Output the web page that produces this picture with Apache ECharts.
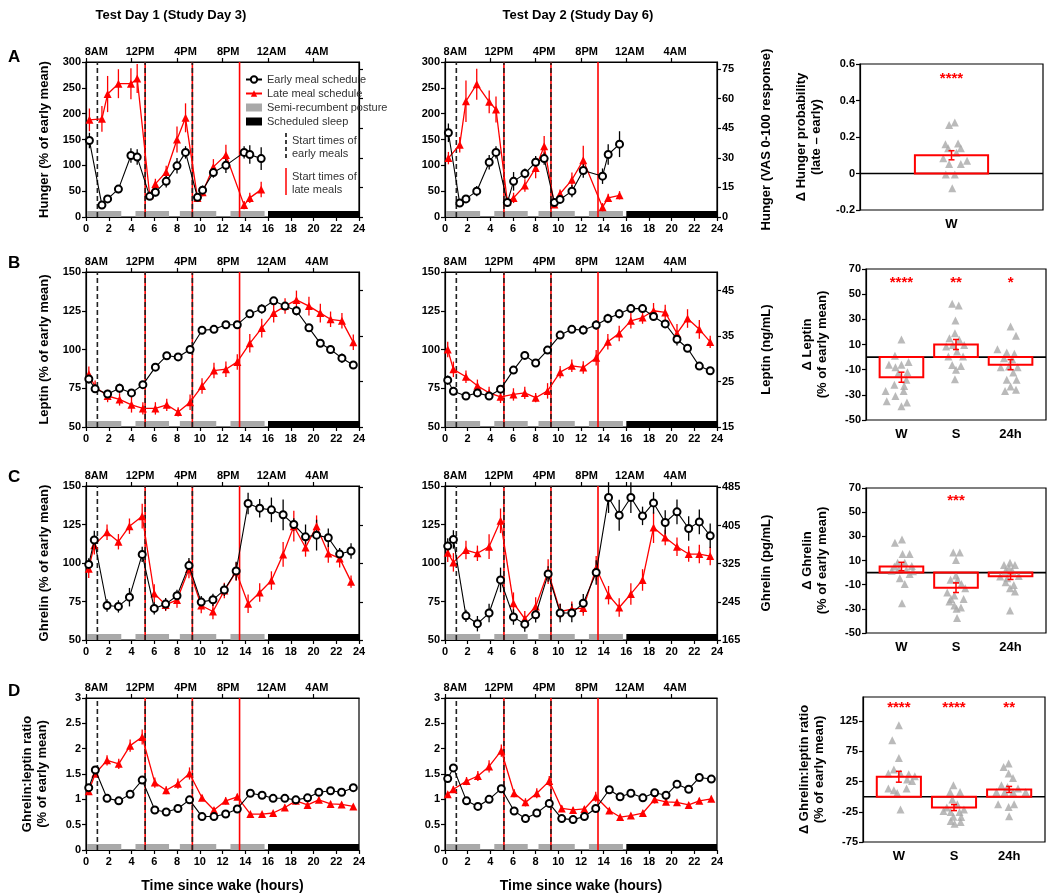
<!DOCTYPE html>
<html>
<head>
<meta charset="utf-8">
<script src="https://cdn.jsdelivr.net/npm/echarts@6/dist/echarts.min.js"></script>
<style>
html, body { margin: 0; padding: 0; background: #fff; }
#chart { width: 1050px; height: 894px; }
</style>
</head>
<body>
<div id="chart"></div>
<script>
var FONT = '"Liberation Sans", Arial, sans-serif';
var RED = '#ff0000';
var GREY = '#a9a9a9';

// clock axis and protocol timing (hours since wake)
var clockLabels = ['8AM', '12PM', '4PM', '8PM', '12AM', '4AM'];
var clockLabelHours = [0.9, 4.75, 8.75, 12.5, 16.3, 20.3];
var postureBlocks = [[0.1, 3.1], [4.35, 7.3], [8.25, 11.45], [12.7, 15.7]];
var sleepBlocks = [[16, 24]];
var earlyMeals = [1, 5.2, 9.35];
var lateMeals = [5.2, 9.35, 13.5];

// Hunger, % of early mean
var hungerHours1 = [0.3, 1.4, 1.9, 2.85, 3.95, 4.5, 5.6, 6.1, 7.05, 8.0, 8.75, 9.8, 10.25, 11.2, 12.3, 13.9, 14.4, 15.4];
var hungerEarly1 = [148, 23, 35, 54, 119, 116, 40, 48, 69, 99, 125, 38, 52, 86, 100, 125, 121, 113];
var hungerEarly1Err = [15, 5, 7, 8, 14, 15, 7, 8, 12, 15, 12, 8, 9, 10, 15, 12, 18, 22];
var hungerLate1 = [188, 190, 238, 258, 258, 268, 42, 64, 87, 150, 192, 37, 48, 97, 120, 23, 37, 53];
var hungerLate1Err = [22, 25, 35, 28, 30, 28, 8, 10, 12, 25, 28, 6, 8, 15, 20, 8, 10, 15];
var hungerHours2 = [0.3, 1.3, 1.85, 2.8, 3.9, 4.5, 5.5, 6.05, 7.05, 8.0, 8.75, 9.65, 10.15, 11.2, 12.2, 13.9, 14.4, 15.4];
var hungerEarly2 = [163, 27, 35, 50, 106, 125, 28, 69, 84, 106, 113, 28, 34, 50, 90, 79, 121, 141];
var hungerEarly2Err = [18, 6, 7, 10, 14, 12, 6, 18, 10, 12, 12, 6, 7, 12, 14, 15, 20, 25];
var hungerLate2 = [114, 140, 224, 257, 223, 208, 30, 37, 61, 95, 137, 24, 45, 72, 110, 19, 37, 42];
var hungerLate2Err = [12, 15, 40, 30, 22, 25, 8, 10, 12, 20, 20, 6, 8, 14, 28, 8, 8, 8];

// Leptin, % of early mean
var leptinHours1 = [0.25, 0.8, 1.9, 2.95, 4, 5, 6.1, 7.1, 8.1, 9.15, 10.2, 11.25, 12.3, 13.3, 14.4, 15.45, 16.5, 17.5, 18.5, 19.6, 20.6, 21.5, 22.5, 23.5];
var leptinEarly1 = [81, 74.6, 71.3, 75, 72, 77.3, 88.6, 96, 95.2, 100, 112.4, 113, 116, 116, 123, 126.2, 131.4, 128, 125, 114, 104, 100, 94.4, 90];
var leptinEarly1Err = [3, 2, 2, 3, 2, 2, 2, 2, 2, 2, 2, 2, 2, 2, 2, 3, 2, 2, 3, 2, 2, 2, 3, 2];
var leptinLate1 = [84, 76, 70, 67.8, 64.3, 62, 62, 64.3, 59.7, 66, 76.4, 86.4, 87.3, 92, 104, 113.8, 123.5, 128, 132, 128, 123.5, 119.5, 118.5, 104.6];
var leptinLate1Err = [5, 4, 4, 4, 5, 4, 4, 4, 3, 5, 5, 5, 5, 5, 6, 6, 6, 5, 6, 6, 6, 5, 5, 5];
var leptinHours2 = [0.24, 0.74, 1.85, 2.86, 3.89, 4.9, 6.04, 7.04, 8.0, 9.05, 10.16, 11.19, 12.2, 13.34, 14.37, 15.37, 16.4, 17.43, 18.4, 19.43, 20.47, 21.4, 22.44, 23.4];
var leptinEarly2 = [80.2, 73.1, 70, 72, 70, 74.4, 86.7, 96.2, 91.3, 99.6, 109.3, 113, 112.6, 115.8, 120, 123, 126.4, 126.4, 121.3, 116.5, 106.6, 100.8, 89.3, 86.3];
var leptinEarly2Err = [3, 2, 2, 2, 2, 2, 2, 2, 2, 2, 2, 2, 3, 3, 3, 3, 2, 2, 2, 2, 4, 2, 2, 2];
var leptinLate2 = [100, 87.2, 82.4, 76.6, 72, 69.5, 71, 72, 68.9, 73.3, 85.4, 89.5, 88.4, 94.7, 105, 110.4, 118.5, 120.6, 125, 123.9, 110.4, 120, 113, 104.9];
var leptinLate2Err = [5, 5, 4, 4, 4, 4, 4, 4, 3, 5, 4, 4, 4, 5, 5, 5, 5, 4, 5, 5, 6, 6, 6, 4];

// Ghrelin, % of early mean
var ghrelinHours1 = [0.24, 0.73, 1.85, 2.85, 3.82, 4.94, 6.0, 7.0, 8.0, 9.05, 10.13, 11.16, 12.16, 13.2, 14.25, 15.27, 16.3, 17.33, 18.27, 19.3, 20.27, 21.3, 22.3, 23.3];
var ghrelinEarly1 = [99.1, 114.9, 72.4, 71.8, 77.8, 105.6, 70.5, 73.3, 78.7, 98.3, 74.6, 76.1, 82.5, 94.8, 138.6, 135.6, 134.5, 131.3, 125, 117, 118.1, 116.4, 105.8, 107.8];
var ghrelinEarly1Err = [4, 6, 4, 4, 6, 5, 4, 4, 4, 5, 4, 4, 4, 6, 7, 6, 8, 10, 4, 8, 10, 6, 4, 5];
var ghrelinLate1 = [96.3, 111.6, 120, 113.8, 123.9, 130.4, 80.2, 72.8, 76, 96.1, 72.4, 68.5, 82.1, 94.4, 73.5, 80.8, 88.6, 105.6, 123.9, 110.1, 123.9, 106.2, 103, 87.9];
var ghrelinLate1Err = [6, 6, 5, 5, 5, 8, 6, 4, 5, 6, 5, 5, 5, 6, 6, 6, 6, 8, 10, 6, 7, 6, 6, 4];
var ghrelinHours2 = [0.24, 0.74, 1.85, 2.86, 3.89, 4.9, 6.04, 7.04, 8.0, 9.1, 10.16, 11.19, 12.2, 13.34, 14.43, 15.37, 16.4, 17.43, 18.4, 19.43, 20.47, 21.5, 22.44, 23.4];
var ghrelinEarly2 = [111, 115.3, 65.7, 60.6, 67.5, 89, 64.9, 60.3, 66.4, 92.9, 67.5, 67.5, 73.9, 93.8, 142.5, 131, 142.5, 130.6, 139, 126.3, 133.2, 122.4, 126.7, 117.7];
var ghrelinEarly2Err = [5, 6, 4, 5, 6, 8, 5, 5, 5, 5, 6, 6, 6, 8, 10, 10, 10, 6, 7, 8, 8, 8, 8, 8];
var ghrelinLate2 = [106.7, 100.4, 108.4, 106.3, 110.6, 127.4, 73.9, 63.8, 71.8, 94.4, 68.5, 70, 70.7, 96.6, 79.1, 71.1, 79.9, 89, 123, 116.6, 110.6, 105.8, 105.8, 104.5];
var ghrelinLate2Err = [6, 6, 6, 5, 8, 8, 7, 5, 6, 8, 5, 5, 5, 8, 6, 6, 7, 7, 10, 5, 6, 5, 6, 6];

// Ghrelin:leptin ratio
var ratioHours1 = [0.24, 0.82, 1.85, 2.88, 3.88, 4.94, 6.05, 7.05, 8.08, 9.1, 10.2, 11.25, 12.28, 13.3, 14.45, 15.48, 16.45, 17.48, 18.45, 19.48, 20.47, 21.5, 22.47, 23.5];
var ratioEarly1 = [1.23, 1.58, 1.02, 0.97, 1.10, 1.38, 0.79, 0.75, 0.82, 0.99, 0.66, 0.66, 0.71, 0.81, 1.12, 1.08, 1.02, 1.02, 0.99, 1.03, 1.14, 1.17, 1.14, 1.23];
var ratioEarly1Err = [0.04, 0.05, 0.03, 0.03, 0.04, 0.05, 0.03, 0.03, 0.03, 0.04, 0.03, 0.03, 0.03, 0.03, 0.03, 0.03, 0.03, 0.03, 0.03, 0.03, 0.04, 0.03, 0.04, 0.05];
var ratioLate1 = [1.16, 1.51, 1.77, 1.70, 2.06, 2.23, 1.33, 1.18, 1.31, 1.51, 1.03, 0.79, 0.97, 1.05, 0.71, 0.71, 0.73, 0.84, 0.97, 0.89, 0.99, 0.91, 0.90, 0.86];
var ratioLate1Err = [0.05, 0.08, 0.1, 0.1, 0.12, 0.15, 0.1, 0.08, 0.1, 0.12, 0.06, 0.05, 0.07, 0.06, 0.04, 0.04, 0.04, 0.06, 0.07, 0.06, 0.06, 0.06, 0.05, 0.05];
var ratioHours2 = [0.24, 0.74, 1.9, 2.9, 3.89, 4.97, 6.1, 7.1, 8.1, 9.2, 10.3, 11.3, 12.3, 13.3, 14.5, 15.45, 16.4, 17.46, 18.5, 19.5, 20.47, 21.5, 22.44, 23.5];
var ratioEarly2 = [1.41, 1.62, 0.97, 0.86, 1.0, 1.21, 0.77, 0.62, 0.73, 0.92, 0.62, 0.60, 0.66, 0.82, 1.19, 1.05, 1.12, 1.03, 1.13, 1.08, 1.30, 1.20, 1.43, 1.40];
var ratioEarly2Err = [0.04, 0.05, 0.03, 0.03, 0.04, 0.05, 0.03, 0.03, 0.03, 0.04, 0.03, 0.03, 0.03, 0.03, 0.03, 0.03, 0.03, 0.03, 0.03, 0.03, 0.04, 0.06, 0.06, 0.06];
var ratioLate2 = [1.10, 1.20, 1.36, 1.46, 1.65, 1.96, 1.12, 0.94, 1.12, 1.36, 0.82, 0.79, 0.81, 1.05, 0.78, 0.65, 0.68, 0.73, 1.0, 0.95, 0.94, 0.89, 0.97, 1.01];
var ratioLate2Err = [0.05, 0.06, 0.08, 0.1, 0.12, 0.12, 0.08, 0.08, 0.1, 0.1, 0.06, 0.05, 0.05, 0.1, 0.05, 0.04, 0.04, 0.05, 0.08, 0.06, 0.05, 0.05, 0.06, 0.06];

// late minus early summaries (W = wake, S = sleep, 24h)
var deltaCats3 = ['W', 'S', '24h'];
var hungerDeltaMean = [0.10];
var hungerDeltaSem = [0.025];
var hungerDeltaStars = ['****'];
var hungerDeltaPoints = [[0.266, 0.279, 0.16, 0.138, 0.165, 0.138, 0.114, 0.083, 0.052, 0.052, 0.07, -0.005, -0.005, -0.081]];
var hungerDeltaJitter = [[-0.013, 0.018, -0.033, -0.018, 0.036, 0.051, 0.027, -0.045, -0.013, 0.051, 0.085, -0.031, 0.018, 0.004]];

var leptinDeltaMean = [-16, 10, -6];
var leptinDeltaSem = [4, 4, 4];
var leptinDeltaStars = ['****', '**', '*'];
var leptinDeltaPoints = [
  [14, 1, -4, -6, -6, -8, -12, -13, -18, -22, -23, -27, -27, -31, -35, -36, -39],
  [42.4, 41, 29, 19, 15, 13.7, 8.4, 9.7, 9.7, 4.4, 0.4, 0.4, -6.2, -7, -10, -17.6],
  [24.3, 17, 6.3, 3.6, 2.6, -0.9, -1.7, -8, -7.5, -8, -12.3, -18.1, -18.1, -23.4, -26.9, -26]
];
var leptinDeltaJitter = [
  [0, -0.12, 0.13, -0.23, 0, -0.11, 0.11, -0.06, 0.09, -0.13, 0.05, -0.29, 0.04, -0.11, -0.27, 0.1, 0],
  [-0.07, 0.05, -0.01, -0.02, -0.12, 0.06, -0.18, -0.06, 0.15, 0.02, -0.14, 0.13, -0.07, 0.09, 0, -0.02],
  [0, 0.1, -0.24, -0.07, 0.07, -0.12, 0.03, -0.18, -0.03, 0.13, 0.05, -0.07, 0.11, 0, -0.1, 0.1]
];

var ghrelinDeltaMean = [5, -12.5, -3];
var ghrelinDeltaSem = [3.5, 4, 2.7];
var ghrelinDeltaStars = ['', '***', ''];
var ghrelinDeltaPoints = [
  [24.7, 27.4, 15.4, 15.4, 8.2, 8.2, 5, 5.5, 1.6, 2.7, 2.2, -1.1, 1.2, -4.7, -9.4, -25.3],
  [16.7, 16.7, 10.4, -2.5, -6, -6, -9.4, -16.5, -19, -13, -21.8, -21.8, -27.2, -28.8, -30, -37.6, -24],
  [8.2, 6.3, 6.3, 3.6, 1.6, 1.6, -2.8, -3.3, -4.7, -8, -10.2, -13, -15.7, -31.3]
];
var ghrelinDeltaJitter = [
  [-0.12, 0.01, 0.02, 0.15, -0.07, 0.06, -0.13, 0.19, -0.18, -0.05, 0.09, 0.15, 0.21, -0.03, 0.06, 0.01],
  [-0.05, 0.07, 0, 0, -0.1, 0.03, 0.1, -0.16, -0.03, 0.17, -0.09, 0.14, -0.03, 0.09, 0.01, 0.02, -0.12],
  [-0.01, -0.12, 0.08, -0.03, -0.09, 0.03, 0.15, -0.19, -0.06, -0.09, 0.06, -0.01, 0.08, -0.01]
];

var ratioDeltaMean = [33, -18, 12];
var ratioDeltaSem = [9, 5, 5];
var ratioDeltaStars = ['****', '****', '**'];
var ratioDeltaPoints = [
  [118.4, 93.5, 64.2, 38.3, 44.9, 38.3, 37.2, 33.8, 28.3, 26.1, 13.4, 10.6, 6.2, 13.4, -21.4],
  [18.9, 7.9, 7.9, -4.8, -23.6, -25.3, -25.3, -21.4, -18.1, -12.6, -40.2, -41.9, -44.7, -33.6, -33],
  [54.8, 49.3, 38.3, 31.1, 18.9, 16.2, 13.4, 7.9, 7.9, 7.9, 7.9, -12.6, -17, -12.6, -32.5]
];
var ratioDeltaJitter = [
  [0, -0.12, 0, -0.19, -0.09, 0.03, 0.18, 0.29, 0.15, 0.24, -0.19, -0.09, -0.03, 0.14, 0.03],
  [-0.01, -0.07, 0.11, -0.03, -0.19, -0.06, 0.1, 0.18, -0.13, 0.06, -0.06, 0.12, 0.01, 0.13, -0.01],
  [-0.01, -0.1, -0.01, 0.07, -0.14, -0.03, 0.16, -0.23, -0.08, 0.07, 0.3, -0.2, -0.01, 0.09, 0]
];

function pairs(xs, ys) {
  return xs.map(function (x, i) { return [x, ys[i]]; });
}
function errRows(xs, ys, es) {
  return xs.map(function (x, i) { return [x, ys[i] - es[i], ys[i] + es[i]]; });
}

var labelStyle = { color: '#000', fontWeight: 'bold', fontSize: 11, fontFamily: FONT };
var nameStyle = { color: '#000', fontWeight: 'bold', fontSize: 13, fontFamily: FONT, lineHeight: 15 };
var blackLine = { color: '#000', width: 1.2 };

var option = {
  animation: false,
  backgroundColor: '#fff',
  textStyle: { fontFamily: FONT },
  title: [
    { text: 'Test Day 1 (Study Day 3)', left: 166, top: 4, textAlign: 'center', textStyle: { fontSize: 13, fontWeight: 'bold', color: '#000' } },
    { text: 'Test Day 2 (Study Day 6)', left: 573, top: 4, textAlign: 'center', textStyle: { fontSize: 13, fontWeight: 'bold', color: '#000' } },
    { text: 'A', left: 3, top: 44, textStyle: { fontSize: 17, fontWeight: 'bold', color: '#000' } },
    { text: 'B', left: 3, top: 250, textStyle: { fontSize: 17, fontWeight: 'bold', color: '#000' } },
    { text: 'C', left: 3, top: 464, textStyle: { fontSize: 17, fontWeight: 'bold', color: '#000' } },
    { text: 'D', left: 3, top: 678, textStyle: { fontSize: 17, fontWeight: 'bold', color: '#000' } }
  ],
  legend: {
    orient: 'vertical', left: 240, top: 69, itemWidth: 16, itemHeight: 8, itemGap: 3,
    textStyle: { fontSize: 11, color: '#333', fontFamily: FONT },
    selectedMode: false,
    data: [
      { name: 'Early meal schedule' },
      { name: 'Late meal schedule' },
      { name: 'Semi-recumbent posture', icon: 'rect', itemStyle: { color: GREY } },
      { name: 'Scheduled sleep', icon: 'rect', itemStyle: { color: '#000' } }
    ]
  },
  graphic: [
    { type: 'line', shape: { x1: 286, y1: 133, x2: 286, y2: 158 }, style: { stroke: '#000', lineWidth: 1.5, lineDash: [4, 3] } },
    { type: 'text', left: 292, top: 134, style: { text: 'Start times of\nearly meals', fill: '#333', font: '11px ' + FONT, lineHeight: 13 } },
    { type: 'line', shape: { x1: 286, y1: 168, x2: 286, y2: 195 }, style: { stroke: RED, lineWidth: 1.5 } },
    { type: 'text', left: 292, top: 170, style: { text: 'Start times of\nlate meals', fill: '#333', font: '11px ' + FONT, lineHeight: 13 } }
  ],
  grid: [],
  xAxis: [],
  yAxis: [],
  series: []
};

function stripRenderer(yBase) {
  return function (params, api) {
    var a = api.coord([api.value(0), yBase]);
    var b = api.coord([api.value(1), yBase]);
    return { type: 'rect', shape: { x: a[0], y: a[1] - 6, width: b[0] - a[0], height: 6 }, style: { fill: api.visual('color') } };
  };
}
function mealRenderer(yMin, yMax, dashed) {
  return function (params, api) {
    var a = api.coord([api.value(0), yMin]);
    var b = api.coord([api.value(0), yMax]);
    return {
      type: 'line', shape: { x1: a[0], y1: a[1], x2: b[0], y2: b[1] },
      style: { stroke: api.visual('color'), lineWidth: 1.6, lineDash: dashed ? [5, 3] : null }
    };
  };
}
function errRenderer(params, api) {
  var a = api.coord([api.value(0), api.value(1)]);
  var b = api.coord([api.value(0), api.value(2)]);
  return { type: 'line', shape: { x1: a[0], y1: a[1], x2: b[0], y2: b[1] }, style: { stroke: api.visual('color'), lineWidth: 1.3 } };
}

function linePanel(p) {
  var g = option.grid.length;
  option.grid.push({ left: p.left, top: p.top, width: p.width, height: p.height, show: true, borderColor: '#000', borderWidth: 1.2 });
  var xi = option.xAxis.length;
  option.xAxis.push({
    type: 'value', gridIndex: g, min: 0, max: 24, interval: 2, position: 'bottom',
    axisLine: { onZero: false, lineStyle: blackLine }, axisTick: { length: 4, lineStyle: blackLine },
    axisLabel: Object.assign({ margin: 6 }, labelStyle), splitLine: { show: false },
    name: p.xName || '', nameLocation: 'middle', nameGap: 29,
    nameTextStyle: { color: '#000', fontWeight: 'bold', fontSize: 14, fontFamily: FONT }
  });
  option.xAxis.push({
    type: 'value', gridIndex: g, min: 0, max: 24, position: 'top',
    axisLine: { onZero: false, lineStyle: blackLine },
    axisTick: { length: 4, lineStyle: blackLine, customValues: [0, 4, 8, 12, 16, 20] },
    axisLabel: Object.assign({ margin: 5, customValues: clockLabelHours, formatter: function (v) {
      var i = clockLabelHours.indexOf(v);
      return i < 0 ? '' : clockLabels[i];
    } }, labelStyle),
    splitLine: { show: false }
  });
  var yi = option.yAxis.length;
  option.yAxis.push({
    type: 'value', gridIndex: g, min: p.yMin, max: p.yMax, interval: p.yInterval, position: 'left',
    axisLine: { show: true, onZero: false, lineStyle: blackLine }, axisTick: { show: true, length: 4, lineStyle: blackLine },
    axisLabel: Object.assign({ margin: 5 }, labelStyle), splitLine: { show: false },
    name: p.yName || '', nameLocation: 'middle', nameRotate: 90, nameGap: p.yNameGap || 34, nameTextStyle: nameStyle
  });
  if (p.right) {
    option.yAxis.push({
      type: 'value', gridIndex: g, min: p.right.min, max: p.right.max, position: 'right',
      axisLine: { show: true, onZero: false, lineStyle: blackLine },
      axisTick: { show: true, length: 4, lineStyle: blackLine, customValues: p.right.ticks },
      axisLabel: Object.assign({ show: !!p.right.labels, margin: 5, customValues: p.right.ticks }, labelStyle),
      splitLine: { show: false },
      name: p.right.labels ? p.right.name : '', nameLocation: 'middle', nameRotate: 90, nameGap: 42, nameTextStyle: nameStyle
    });
  }
  var ax = { xAxisIndex: xi, yAxisIndex: yi, silent: true };
  var S = option.series;
  S.push(Object.assign({ type: 'custom', name: p.legend ? 'Semi-recumbent posture' : 'posture' + g, renderItem: stripRenderer(p.yMin), data: postureBlocks, itemStyle: { color: GREY } }, ax));
  S.push(Object.assign({ type: 'custom', name: p.legend ? 'Scheduled sleep' : 'sleep' + g, renderItem: stripRenderer(p.yMin), data: sleepBlocks, itemStyle: { color: '#000' } }, ax));
  S.push(Object.assign({ type: 'custom', name: 'lateMeals' + g, renderItem: mealRenderer(p.yMin, p.yMax, false), data: lateMeals.map(function (t) { return [t, p.yMin]; }), itemStyle: { color: RED } }, ax));
  S.push(Object.assign({ type: 'custom', name: 'earlyMeals' + g, renderItem: mealRenderer(p.yMin, p.yMax, true), data: earlyMeals.map(function (t) { return [t, p.yMin]; }), itemStyle: { color: '#222' } }, ax));
  S.push(Object.assign({ type: 'custom', name: 'lateErr' + g, renderItem: errRenderer, encode: { x: 0, y: [1, 2] }, data: errRows(p.hours, p.late, p.lateErr), itemStyle: { color: RED } }, ax));
  S.push(Object.assign({ type: 'custom', name: 'earlyErr' + g, renderItem: errRenderer, encode: { x: 0, y: [1, 2] }, data: errRows(p.hours, p.early, p.earlyErr), itemStyle: { color: '#000' } }, ax));
  S.push(Object.assign({
    type: 'line', name: p.legend ? 'Late meal schedule' : 'late' + g, data: pairs(p.hours, p.late),
    symbol: 'triangle', symbolSize: 8, itemStyle: { color: RED }, lineStyle: { color: RED, width: 1.3 }, z: 3
  }, ax));
  S.push(Object.assign({
    type: 'line', name: p.legend ? 'Early meal schedule' : 'early' + g, data: pairs(p.hours, p.early),
    symbol: 'emptyCircle', symbolSize: 7, itemStyle: { color: '#000', borderWidth: 1.2 }, lineStyle: { color: '#000', width: 1.1 }, z: 4
  }, ax));
}

function barRectRenderer(hw) {
  return function (params, api) {
    var a = api.coord([api.value(0) - hw, 0]);
    var b = api.coord([api.value(0) + hw, api.value(1)]);
    return {
      type: 'rect',
      shape: { x: Math.min(a[0], b[0]), y: Math.min(a[1], b[1]), width: Math.abs(b[0] - a[0]), height: Math.abs(b[1] - a[1]) },
      style: { fill: 'transparent', stroke: RED, lineWidth: 2 }
    };
  };
}
function barErrRenderer(params, api) {
  var a = api.coord([api.value(0), api.value(1)]);
  var b = api.coord([api.value(0), api.value(2)]);
  var st = { stroke: RED, lineWidth: 1.5 };
  return {
    type: 'group', children: [
      { type: 'line', shape: { x1: a[0], y1: a[1], x2: b[0], y2: b[1] }, style: st },
      { type: 'line', shape: { x1: a[0] - 3, y1: a[1], x2: a[0] + 3, y2: a[1] }, style: st },
      { type: 'line', shape: { x1: b[0] - 3, y1: b[1], x2: b[0] + 3, y2: b[1] }, style: st }
    ]
  };
}
function starRenderer(labels) {
  return function (params, api) {
    var p = api.coord([api.value(0), api.value(1)]);
    return {
      type: 'text', x: p[0], y: p[1],
      style: { text: labels[params.dataIndex], fill: RED, font: 'bold 15px ' + FONT, textAlign: 'center', textVerticalAlign: 'middle', align: 'center', verticalAlign: 'middle' }
    };
  };
}

function barPanel(p) {
  var g = option.grid.length;
  option.grid.push({ left: p.left, top: p.top, width: p.width, height: p.height, show: true, borderColor: '#000', borderWidth: 1.2 });
  var catPos = p.cats.map(function (c, i) { return i; });
  var xi = option.xAxis.length;
  option.xAxis.push({
    type: 'value', gridIndex: g, min: p.xMin, max: p.xMax, position: 'bottom',
    axisLine: { show: false, onZero: false }, axisTick: { show: false }, splitLine: { show: false },
    axisLabel: { customValues: catPos, formatter: function (v) { return p.cats[Math.round(v)] || ''; }, color: '#000', fontWeight: 'bold', fontSize: 13, fontFamily: FONT, margin: 8 }
  });
  var yi = option.yAxis.length;
  var yAxis = {
    type: 'value', gridIndex: g, min: p.yMin, max: p.yMax, position: 'left',
    axisLine: { show: true, onZero: false, lineStyle: blackLine }, axisTick: { show: true, length: 4, lineStyle: blackLine },
    axisLabel: Object.assign({ margin: 5 }, labelStyle), splitLine: { show: false },
    name: p.yName, nameLocation: 'middle', nameRotate: 90, nameGap: 36, nameTextStyle: nameStyle
  };
  if (p.yTicks) {
    yAxis.axisTick.customValues = p.yTicks;
    yAxis.axisLabel.customValues = p.yTicks;
  } else {
    yAxis.interval = p.yInterval;
  }
  option.yAxis.push(yAxis);
  var ax = { xAxisIndex: xi, yAxisIndex: yi, silent: true };
  var pts = [];
  p.points.forEach(function (vals, k) {
    vals.forEach(function (v, j) { pts.push([k + p.jitter[k][j], v]); });
  });
  var S = option.series;
  S.push(Object.assign({ type: 'scatter', name: 'pts' + g, data: pts, symbol: 'triangle', symbolSize: 8, itemStyle: { color: GREY } }, ax));
  S.push(Object.assign({
    type: 'custom', name: 'zero' + g, data: [[p.xMin, 0]],
    renderItem: function (params, api) {
      var a = api.coord([p.xMin, 0]), b = api.coord([p.xMax, 0]);
      return { type: 'line', shape: { x1: a[0], y1: a[1], x2: b[0], y2: b[1] }, style: { stroke: '#000', lineWidth: 1.6 } };
    }
  }, ax));
  S.push(Object.assign({ type: 'custom', name: 'bars' + g, renderItem: barRectRenderer(p.halfWidth), data: pairs(catPos, p.mean), z: 3 }, ax));
  S.push(Object.assign({ type: 'custom', name: 'barErr' + g, renderItem: barErrRenderer, encode: { x: 0, y: [1, 2] }, data: errRows(catPos, p.mean, p.sem), z: 4 }, ax));
  S.push(Object.assign({ type: 'custom', name: 'stars' + g, renderItem: starRenderer(p.stars), data: catPos.map(function (i) { return [i, p.starY]; }), z: 5 }, ax));
}

var COL1 = { left: 86, width: 273 };
var COL2 = { left: 445, width: 272 };
var rows = [
  { top: 62, height: 155, yMin: 0, yMax: 300, yInterval: 50, yName: 'Hunger (% of early mean)',
    right: { min: 0, max: 78.5, ticks: [0, 15, 30, 45, 60, 75], name: 'Hunger (VAS 0-100 response)' },
    d1: [hungerHours1, hungerEarly1, hungerEarly1Err, hungerLate1, hungerLate1Err],
    d2: [hungerHours2, hungerEarly2, hungerEarly2Err, hungerLate2, hungerLate2Err] },
  { top: 272, height: 155, yMin: 50, yMax: 150, yInterval: 25, yName: 'Leptin (% of early mean)',
    right: { min: 15, max: 49.1, ticks: [15, 25, 35, 45], name: 'Leptin (ng/mL)' },
    d1: [leptinHours1, leptinEarly1, leptinEarly1Err, leptinLate1, leptinLate1Err],
    d2: [leptinHours2, leptinEarly2, leptinEarly2Err, leptinLate2, leptinLate2Err] },
  { top: 486, height: 154, yMin: 50, yMax: 150, yInterval: 25, yName: 'Ghrelin (% of early mean)',
    right: { min: 165, max: 488, ticks: [165, 245, 325, 405, 485], name: 'Ghrelin (pg/mL)' },
    d1: [ghrelinHours1, ghrelinEarly1, ghrelinEarly1Err, ghrelinLate1, ghrelinLate1Err],
    d2: [ghrelinHours2, ghrelinEarly2, ghrelinEarly2Err, ghrelinLate2, ghrelinLate2Err] },
  { top: 698, height: 154, yMin: 0, yMax: 3, yInterval: 0.5, yName: 'Ghrelin:leptin ratio\n(% of early mean)', yNameGap: 36,
    right: null, xName: 'Time since wake (hours)',
    d1: [ratioHours1, ratioEarly1, ratioEarly1Err, ratioLate1, ratioLate1Err],
    d2: [ratioHours2, ratioEarly2, ratioEarly2Err, ratioLate2, ratioLate2Err] }
];

rows.forEach(function (r, ri) {
  [[COL1, r.d1, true], [COL2, r.d2, false]].forEach(function (c) {
    var col = c[0], d = c[1], first = c[2];
    linePanel({
      left: col.left, width: col.width, top: r.top, height: r.height,
      yMin: r.yMin, yMax: r.yMax, yInterval: r.yInterval,
      yName: first ? r.yName : '', yNameGap: r.yNameGap,
      right: r.right ? Object.assign({}, r.right, { labels: !first }) : null,
      xName: r.xName,
      legend: first && ri === 0,
      hours: d[0], early: d[1], earlyErr: d[2], late: d[3], lateErr: d[4]
    });
  });
});

barPanel({ left: 860, width: 183, top: 64, height: 146, xMin: -0.5, xMax: 0.5, halfWidth: 0.2,
  cats: ['W'], yMin: -0.2, yMax: 0.6, yInterval: 0.2, yName: 'Δ Hunger probability\n(late – early)',
  mean: hungerDeltaMean, sem: hungerDeltaSem, points: hungerDeltaPoints, jitter: hungerDeltaJitter, stars: hungerDeltaStars, starY: 0.52 });
barPanel({ left: 866, width: 180, top: 269, height: 151, xMin: -0.65, xMax: 2.65, halfWidth: 0.4,
  cats: deltaCats3, yMin: -50, yMax: 70, yInterval: 20, yName: 'Δ Leptin\n(% of early mean)',
  mean: leptinDeltaMean, sem: leptinDeltaSem, points: leptinDeltaPoints, jitter: leptinDeltaJitter, stars: leptinDeltaStars, starY: 59 });
barPanel({ left: 866, width: 180, top: 488, height: 145, xMin: -0.65, xMax: 2.65, halfWidth: 0.4,
  cats: deltaCats3, yMin: -50, yMax: 70, yInterval: 20, yName: 'Δ Ghrelin\n(% of early mean)',
  mean: ghrelinDeltaMean, sem: ghrelinDeltaSem, points: ghrelinDeltaPoints, jitter: ghrelinDeltaJitter, stars: ghrelinDeltaStars, starY: 59 });
barPanel({ left: 863, width: 182, top: 697, height: 145, xMin: -0.65, xMax: 2.65, halfWidth: 0.4,
  cats: deltaCats3, yMin: -75, yMax: 165, yTicks: [-75, -25, 25, 75, 125], yName: 'Δ Ghrelin:leptin ratio\n(% of early mean)',
  mean: ratioDeltaMean, sem: ratioDeltaSem, points: ratioDeltaPoints, jitter: ratioDeltaJitter, stars: ratioDeltaStars, starY: 147 });

var chart = echarts.init(document.getElementById('chart'), null, { renderer: 'canvas' });
chart.setOption(option);
</script>
</body>
</html>
